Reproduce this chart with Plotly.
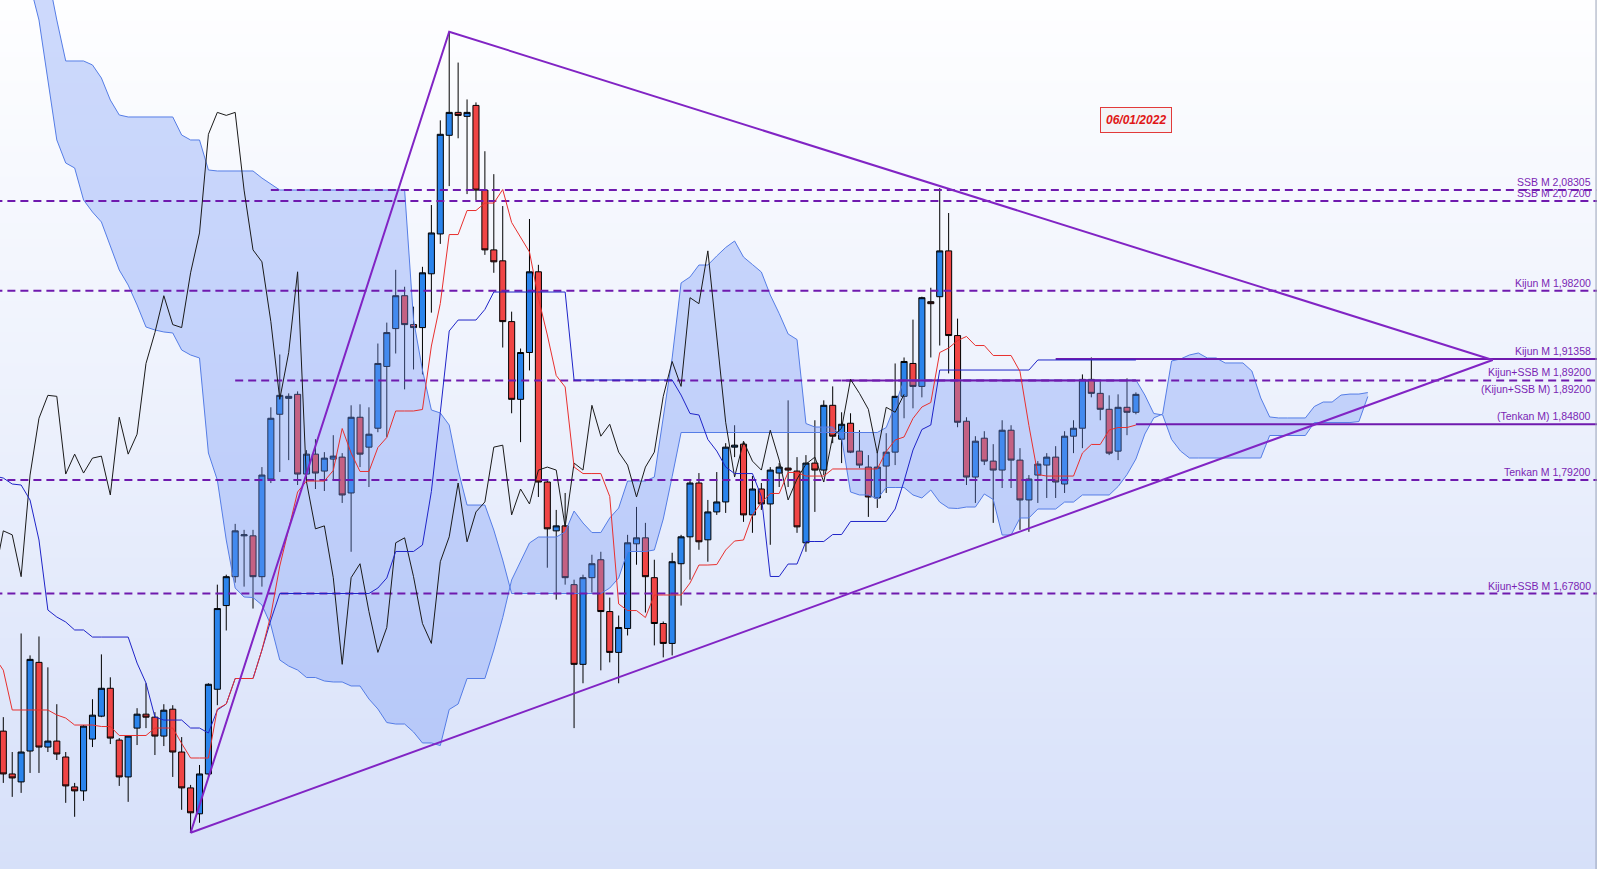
import plotly.graph_objects as go

# ---------------- data (daily candles, index 0..127) ----------------
opens = [1.540, 1.497, 1.489, 1.520, 1.609, 1.524, 1.530, 1.514, 1.484, 1.480,
         1.532, 1.555, 1.583, 1.531, 1.494, 1.543, 1.557, 1.554, 1.535, 1.562,
         1.519, 1.483, 1.457, 1.497, 1.582, 1.666, 1.695, 1.736, 1.736, 1.695,
         1.793, 1.858, 1.874, 1.878, 1.798, 1.818, 1.801, 1.813, 1.815, 1.779,
         1.855, 1.825, 1.844, 1.906, 1.944, 1.977, 1.948, 1.945, 1.999, 2.039,
         2.138, 2.161, 2.157, 2.168, 2.083, 2.023, 2.012, 1.951, 1.873, 1.920,
         2.001, 1.790, 1.741, 1.746, 1.687, 1.607, 1.694, 1.712, 1.660, 1.619,
         1.643, 1.728, 1.734, 1.694, 1.648, 1.628, 1.708, 1.735, 1.789, 1.732,
         1.760, 1.770, 1.825, 1.828, 1.757, 1.783, 1.768, 1.799, 1.804, 1.801,
         1.729, 1.809, 1.802, 1.867, 1.833, 1.849, 1.821, 1.805, 1.774, 1.806,
         1.820, 1.876, 1.909, 1.886, 1.971, 1.976, 2.022, 1.937, 1.851, 1.795,
         1.834, 1.811, 1.802, 1.842, 1.812, 1.772, 1.797, 1.807, 1.815, 1.788,
         1.836, 1.844, 1.893, 1.879, 1.863, 1.821, 1.865, 1.860]
highs = [1.554, 1.519, 1.638, 1.616, 1.635, 1.604, 1.567, 1.519, 1.488, 1.546,
         1.572, 1.617, 1.594, 1.533, 1.536, 1.563, 1.588, 1.559, 1.567, 1.566,
         1.534, 1.486, 1.506, 1.588, 1.687, 1.697, 1.748, 1.742, 1.742, 1.805,
         1.865, 1.918, 1.879, 1.881, 1.822, 1.833, 1.820, 1.837, 1.819, 1.867,
         1.868, 1.865, 1.929, 1.950, 2.003, 1.986, 1.966, 2.006, 2.068, 2.153,
         2.242, 2.211, 2.174, 2.171, 2.122, 2.099, 2.067, 1.961, 1.924, 2.054,
         2.008, 1.792, 1.762, 1.779, 1.692, 1.697, 1.717, 1.720, 1.674, 1.656,
         1.737, 1.765, 1.749, 1.712, 1.650, 1.719, 1.737, 1.791, 1.799, 1.772,
         1.800, 1.829, 1.847, 1.830, 1.796, 1.789, 1.805, 1.809, 1.872, 1.815,
         1.817, 1.852, 1.872, 1.886, 1.860, 1.859, 1.842, 1.817, 1.820, 1.839,
         1.909, 1.915, 1.953, 1.976, 1.985, 2.085, 2.060, 1.954, 1.855, 1.836,
         1.841, 1.828, 1.852, 1.847, 1.824, 1.797, 1.811, 1.819, 1.826, 1.841,
         1.852, 1.898, 1.915, 1.891, 1.877, 1.878, 1.894, 1.880]
lows = [1.488, 1.474, 1.478, 1.498, 1.498, 1.519, 1.511, 1.468, 1.454, 1.470,
        1.524, 1.554, 1.527, 1.485, 1.469, 1.526, 1.543, 1.516, 1.525, 1.494,
        1.461, 1.438, 1.448, 1.493, 1.566, 1.641, 1.689, 1.685, 1.663, 1.685,
        1.789, 1.800, 1.812, 1.787, 1.794, 1.783, 1.781, 1.792, 1.769, 1.720,
        1.805, 1.785, 1.840, 1.835, 1.919, 1.883, 1.903, 1.898, 1.960, 2.029,
        2.087, 2.135, 2.079, 2.073, 2.018, 2.000, 1.925, 1.859, 1.830, 1.902,
        1.775, 1.704, 1.672, 1.687, 1.543, 1.588, 1.679, 1.601, 1.609, 1.588,
        1.636, 1.707, 1.659, 1.626, 1.614, 1.616, 1.666, 1.692, 1.722, 1.710,
        1.757, 1.759, 1.815, 1.750, 1.739, 1.762, 1.727, 1.785, 1.785, 1.739,
        1.720, 1.760, 1.797, 1.829, 1.809, 1.819, 1.804, 1.755, 1.764, 1.779,
        1.807, 1.854, 1.864, 1.875, 1.915, 1.927, 1.899, 1.845, 1.787, 1.769,
        1.807, 1.749, 1.784, 1.784, 1.742, 1.740, 1.769, 1.774, 1.774, 1.779,
        1.819, 1.824, 1.875, 1.852, 1.817, 1.812, 1.837, 1.858]
closes = [1.497, 1.493, 1.519, 1.612, 1.524, 1.530, 1.517, 1.485, 1.480, 1.545,
          1.556, 1.583, 1.533, 1.494, 1.535, 1.557, 1.554, 1.535, 1.561, 1.519,
          1.483, 1.458, 1.497, 1.587, 1.663, 1.695, 1.741, 1.737, 1.695, 1.797,
          1.854, 1.877, 1.876, 1.798, 1.818, 1.799, 1.814, 1.816, 1.777, 1.855,
          1.818, 1.838, 1.909, 1.940, 1.977, 1.948, 1.945, 2.000, 2.040, 2.139,
          2.161, 2.158, 2.161, 2.083, 2.023, 2.011, 1.951, 1.873, 1.920, 2.001,
          1.790, 1.743, 1.746, 1.694, 1.607, 1.694, 1.708, 1.660, 1.619, 1.644,
          1.729, 1.734, 1.695, 1.648, 1.628, 1.710, 1.735, 1.789, 1.730, 1.760,
          1.770, 1.825, 1.827, 1.757, 1.783, 1.768, 1.802, 1.805, 1.802, 1.745,
          1.809, 1.802, 1.867, 1.836, 1.848, 1.820, 1.807, 1.775, 1.805, 1.820,
          1.876, 1.911, 1.886, 1.975, 1.969, 2.022, 1.937, 1.850, 1.795, 1.831,
          1.811, 1.802, 1.842, 1.812, 1.772, 1.793, 1.808, 1.815, 1.790, 1.836,
          1.844, 1.893, 1.879, 1.863, 1.819, 1.865, 1.860, 1.878]

# Tenkan / Kijun (index -1 .. 127)
tenkan = [1.6144, 1.6012, 1.5612, 1.5612, 1.5612, 1.5612, 1.5612, 1.5562, 1.5531, 1.5461,
          1.5461, 1.5461, 1.5446, 1.5446, 1.5356, 1.5356, 1.5356, 1.5356, 1.5431, 1.5431,
          1.5431, 1.5276, 1.5130, 1.5130, 1.5130, 1.5622, 1.5672, 1.5928, 1.5928, 1.5928,
          1.6214, 1.6565, 1.7057, 1.7423, 1.7800, 1.7910, 1.7910, 1.7910, 1.8016, 1.8437,
          1.8191, 1.8006, 1.8006, 1.8246, 1.8347, 1.8613, 1.8613, 1.8613, 1.8628, 1.9265,
          1.9692, 2.0384, 2.0384, 2.0625, 2.0625, 2.0700, 2.0700, 2.0836, 2.0505, 2.0359,
          2.0209, 1.9747, 1.9376, 1.8969, 1.8854, 1.8051, 1.7985, 1.7985, 1.7985, 1.7755,
          1.6676, 1.6610, 1.6610, 1.6540, 1.6766, 1.6766, 1.6766, 1.6766, 1.6886, 1.7067,
          1.7067, 1.7072, 1.7218, 1.7308, 1.7318, 1.7569, 1.7694, 1.7785, 1.7785, 1.7996,
          1.7996, 1.7960, 1.7960, 1.7960, 1.8031, 1.8031, 1.8031, 1.8031, 1.8031, 1.8031,
          1.8206, 1.8322, 1.8352, 1.8538, 1.8653, 1.8698, 1.9200, 1.9245, 1.9320, 1.9361,
          1.9270, 1.9270, 1.9170, 1.9170, 1.9170, 1.9009, 1.8467, 1.7975, 1.7960, 1.7960,
          1.7960, 1.7960, 1.8191, 1.8277, 1.8277, 1.8422, 1.8447, 1.8447, 1.8472]
kijun = [1.7960, 1.7940, 1.7880, 1.7870, 1.7719, 1.7318, 1.6615, 1.6545, 1.6495, 1.6415,
         1.6415, 1.6344, 1.6344, 1.6344, 1.6344, 1.6344, 1.6083, 1.5883, 1.5541, 1.5511,
         1.5511, 1.5511, 1.5431, 1.5431, 1.5381, 1.5612, 1.5672, 1.5928, 1.5928, 1.5928,
         1.6214, 1.6515, 1.6781, 1.6781, 1.6781, 1.6781, 1.6781, 1.6781, 1.6781, 1.6781,
         1.6781, 1.6781, 1.6781, 1.6836, 1.6937, 1.7203, 1.7203, 1.7203, 1.7268, 1.7805,
         1.8598, 1.9416, 1.9526, 1.9526, 1.9526, 1.9632, 1.9807, 1.9807, 1.9807, 1.9807,
         1.9807, 1.9807, 1.9807, 1.9807, 1.9807, 1.8924, 1.8924, 1.8924, 1.8924, 1.8924,
         1.8924, 1.8924, 1.8924, 1.8924, 1.8924, 1.8924, 1.8924, 1.8773, 1.8588, 1.8573,
         1.8327, 1.8211, 1.8051, 1.7985, 1.7985, 1.7985, 1.7755, 1.6952, 1.6952, 1.7077,
         1.7077, 1.7303, 1.7303, 1.7303, 1.7373, 1.7373, 1.7504, 1.7504, 1.7504, 1.7504,
         1.7504, 1.7629, 1.7910, 1.8221, 1.8427, 1.8472, 1.9024, 1.9024, 1.9024, 1.9024,
         1.9024, 1.9024, 1.9024, 1.9024, 1.9024, 1.9024, 1.9024, 1.9125, 1.9125, 1.9125,
         1.9125, 1.9125, 1.9125, 1.9125, 1.9125, 1.9125, 1.9125, 1.9125, 1.9125]

# Kumo (index 0 .. 153, projected 26 periods ahead)
senkou_a = [2.3942, 2.3541, 2.3190, 2.2889, 2.2537, 2.1935, 2.1333, 2.1102, 2.1052, 2.0731,
            2.0610, 2.0510, 2.0279, 2.0028, 1.9877, 1.9677, 1.9456, 1.9426, 1.9406, 1.9396,
            1.9225, 1.9175, 1.9145, 1.8191, 1.7920, 1.7318, 1.6836, 1.6746, 1.6741, 1.6666,
            1.6465, 1.6114, 1.6053, 1.6013, 1.5938, 1.5938, 1.5903, 1.5893, 1.5893, 1.5853,
            1.5853, 1.5722, 1.5622, 1.5486, 1.5471, 1.5471, 1.5391, 1.5281, 1.5281, 1.5255,
            1.5617, 1.5672, 1.5928, 1.5928, 1.5928, 1.6214, 1.6540, 1.6917, 1.7102, 1.7288,
            1.7348, 1.7348, 1.7348, 1.7398, 1.7609, 1.7489, 1.7393, 1.7393, 1.7539, 1.7639,
            1.7910, 1.7910, 1.7910, 1.7950, 1.8532, 1.9145, 1.9898, 1.9958, 2.0078, 2.0078,
            2.0169, 2.0254, 2.0319, 2.0158, 2.0083, 2.0008, 1.9777, 1.9591, 1.9386, 1.9330,
            1.8487, 1.8452, 1.8452, 1.8452, 1.8342, 1.7800, 1.7770, 1.7770, 1.7730, 1.7845,
            1.7845, 1.7845, 1.7770, 1.7740, 1.7820, 1.7699, 1.7639, 1.7634, 1.7649, 1.7649,
            1.7780, 1.7725, 1.7368, 1.7368, 1.7539, 1.7539, 1.7629, 1.7629, 1.7629, 1.7699,
            1.7699, 1.7770, 1.7770, 1.7770, 1.7770, 1.7855, 1.7975, 1.8131, 1.8382, 1.8543,
            1.8583, 1.9115, 1.9135, 1.9175, 1.9195, 1.9145, 1.9145, 1.9095, 1.9095, 1.9095,
            1.9014, 1.8743, 1.8553, 1.8543, 1.8543, 1.8543, 1.8543, 1.8658, 1.8703, 1.8703,
            1.8773, 1.8783, 1.8783, 1.8798]
senkou_b = [2.4986, 2.4645, 2.4244, 2.3842, 2.3441, 2.2989, 2.2537, 2.2126, 2.2126, 2.2126,
            2.2086, 2.1955, 2.1734, 2.1584, 2.1564, 2.1564, 2.1564, 2.1564, 2.1564, 2.1564,
            2.1383, 2.1333, 2.1333, 2.1032, 2.1022, 2.1022, 2.1022, 2.1022, 2.1022, 2.0951,
            2.0891, 2.0831, 2.0831, 2.0831, 2.0831, 2.0831, 2.0831, 2.0831, 2.0831, 2.0831,
            2.0831, 2.0831, 2.0831, 2.0831, 2.0831, 2.0831, 1.9526, 1.9024, 1.8623, 1.8593,
            1.8472, 1.8021, 1.7669, 1.7669, 1.7669, 1.7418, 1.7117, 1.6781, 1.6781, 1.6781,
            1.6781, 1.6781, 1.6781, 1.6781, 1.6781, 1.6781, 1.6781, 1.6781, 1.6836, 1.6937,
            1.7203, 1.7203, 1.7203, 1.7218, 1.7529, 1.7955, 1.8397, 1.8397, 1.8397, 1.8397,
            1.8397, 1.8397, 1.8397, 1.8397, 1.8397, 1.8397, 1.8397, 1.8397, 1.8397, 1.8397,
            1.8397, 1.8397, 1.8397, 1.8397, 1.8397, 1.8397, 1.8397, 1.8397, 1.8397, 1.8447,
            1.8673, 1.8924, 1.8924, 1.8924, 1.8924, 1.8924, 1.8924, 1.8924, 1.8924, 1.8924,
            1.8924, 1.8924, 1.8924, 1.8924, 1.8924, 1.8924, 1.8924, 1.8924, 1.8924, 1.8924,
            1.8924, 1.8924, 1.8924, 1.8924, 1.8924, 1.8924, 1.8924, 1.8924, 1.8773, 1.8588,
            1.8573, 1.8327, 1.8211, 1.8141, 1.8141, 1.8141, 1.8141, 1.8141, 1.8141, 1.8141,
            1.8141, 1.8141, 1.8367, 1.8367, 1.8367, 1.8367, 1.8367, 1.8497, 1.8497, 1.8497,
            1.8497, 1.8497, 1.8507, 1.8758]
chikou_shift = 26

# Horizontal levels
levels = [2.08305, 2.07200, 1.98200, 1.91358, 1.89200, 1.89200, 1.84800, 1.79200, 1.67800]
level_labels = ["SSB M 2,08305", "SSB M 2,07200", "Kijun M 1,98200", "Kijun M 1,91358",
                "Kijun+SSB M 1,89200", "(Kijun+SSB M) 1,89200", "(Tenkan M) 1,84800",
                "Tenkan M 1,79200", "Kijun+SSB M 1,67800"]
level_label_side = ["above", "above", "above", "above", "above", "below", "above",
                    "above", "above"]
level_start = [30, -1, -1, 118, 26, 94, 127, -1, -1]
level_end = [180, 180, 180, 180, 180, 127, 180, 180, 180]
level_dash = ["dash", "dash", "dash", "solid", "dash", "solid", "solid", "dash", "dash"]

# Triangle (index, price)
tri_idx = [21, 50, 167, 21]
tri_price = [1.438, 2.242, 1.9125, 1.438]

date_label = "06/01/2022"

# ---------------- figure ----------------
X_RANGE = [-0.37, 178.7]
Y_RANGE = [1.4016, 2.2738]

n = len(opens)
idx = list(range(n))
line_idx = list(range(-1, n))
cloud_idx = list(range(len(senkou_a)))
chikou_idx = [i - chikou_shift for i in range(chikou_shift - 1, n)]
chikou_vals = closes[chikou_shift - 1:]

fig = go.Figure()

# background gradient
fig.add_trace(go.Heatmap(
    x=[-5, 185], y=[1.38, 1.85, 2.30],
    z=[[0, 0], [0.55, 0.55], [1, 1]],
    colorscale=[[0, "#D5DFF9"], [1, "#FFFFFF"]],
    zsmooth="best", showscale=False, hoverinfo="skip"))

# kumo
fig.add_trace(go.Scatter(x=cloud_idx, y=senkou_b, mode="lines",
                         line=dict(color="rgb(85,125,230)", width=1), hoverinfo="skip"))
fig.add_trace(go.Scatter(x=cloud_idx, y=senkou_a, mode="lines", fill="tonexty",
                         fillcolor="rgba(115,150,245,0.35)",
                         line=dict(color="rgb(85,125,230)", width=1), hoverinfo="skip"))

# horizontal levels
for lv, st, en, ds in zip(levels, level_start, level_end, level_dash):
    fig.add_trace(go.Scatter(x=[st, en], y=[lv, lv], mode="lines",
                             line=dict(color="#6F1AAE", width=2,
                                       dash="8px,5px" if ds == "dash" else "solid"),
                             hoverinfo="skip"))

# chikou, kijun, tenkan
fig.add_trace(go.Scatter(x=chikou_idx, y=chikou_vals, mode="lines",
                         line=dict(color="#1a1a1a", width=1), hoverinfo="skip"))
fig.add_trace(go.Scatter(x=line_idx, y=kijun, mode="lines",
                         line=dict(color="#1F24C8", width=1), hoverinfo="skip"))
fig.add_trace(go.Scatter(x=line_idx, y=tenkan, mode="lines",
                         line=dict(color="#E8302E", width=1), hoverinfo="skip"))

# candles
fig.add_trace(go.Candlestick(
    x=idx, open=opens, high=highs, low=lows, close=closes,
    increasing=dict(line=dict(color="#000000", width=1), fillcolor="#2A84EC"),
    decreasing=dict(line=dict(color="#000000", width=1), fillcolor="#F04545"),
    whiskerwidth=0, hoverinfo="skip"))

# triangle
fig.add_trace(go.Scatter(x=tri_idx, y=tri_price, mode="lines",
                         line=dict(color="#8124C4", width=2), hoverinfo="skip"))

annotations = []
for lv, lab, side in zip(levels, level_labels, level_label_side):
    annotations.append(dict(xref="paper", yref="y", x=0.9972, y=lv, text=lab,
                            xanchor="right",
                            yanchor="bottom" if side == "above" else "top",
                            yshift=0 if side == "above" else -1, showarrow=False,
                            font=dict(family="Liberation Sans, Arial", size=10.5,
                                      color="#7A1FB4")))
annotations.append(dict(xref="paper", yref="paper", x=1136 / 1597, y=1 - 120 / 869,
                        text=date_label, showarrow=False, xanchor="center", yanchor="middle",
                        font=dict(family="Liberation Sans, Arial", size=12, color="#E01515",
                                  weight="bold", style="italic"),
                        bordercolor="#E23A3A", borderwidth=1, borderpad=5,
                        bgcolor="#F3F3F6"))

fig.update_layout(
    width=1597, height=869,
    margin=dict(l=0, r=0, t=0, b=0),
    paper_bgcolor="#FFFFFF", plot_bgcolor="#FFFFFF",
    showlegend=False, boxgap=0.32, boxgroupgap=0,
    xaxis=dict(range=X_RANGE, visible=False, showgrid=False, zeroline=False,
               rangeslider=dict(visible=False), fixedrange=True),
    yaxis=dict(range=Y_RANGE, visible=False, showgrid=False, zeroline=False,
               fixedrange=True),
    annotations=annotations,
    shapes=[dict(type="line", xref="paper", yref="paper", x0=0.9994, x1=0.9994,
                 y0=0, y1=1, line=dict(color="#9AA3B8", width=1))],
)

fig.write_html("out.html", config={"displayModeBar": False},
               post_script="document.body.style.margin='0';document.body.style.overflow='hidden';")
